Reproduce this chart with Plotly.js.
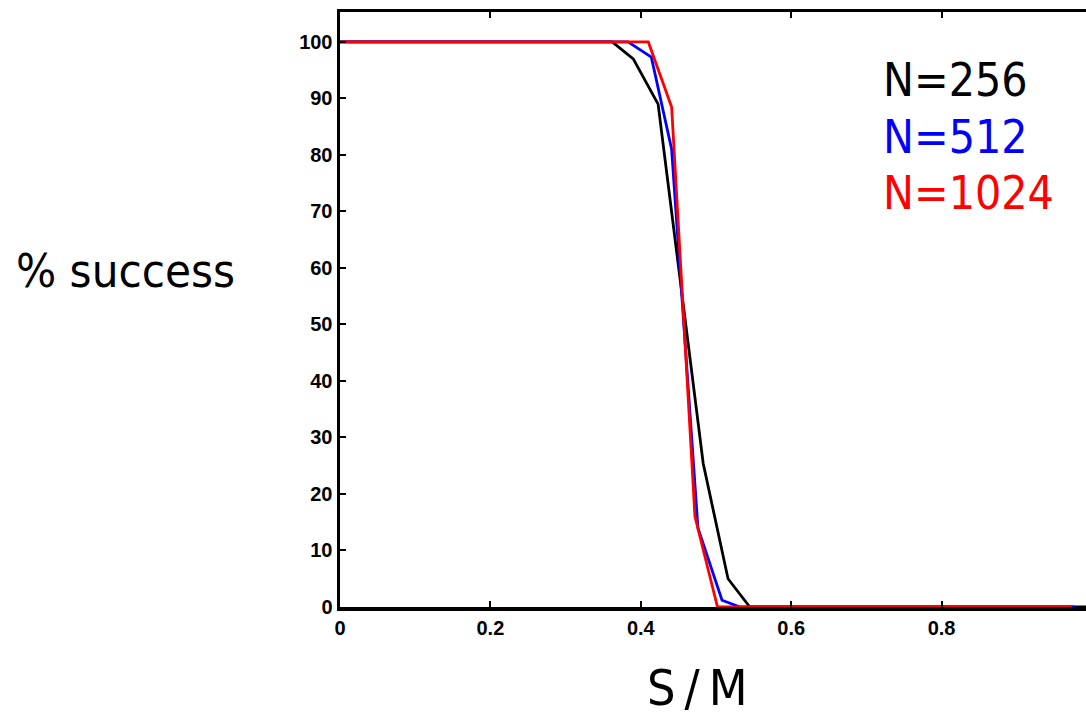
<!DOCTYPE html>
<html>
<head>
<meta charset="utf-8">
<script src="https://cdn.plot.ly/plotly-3.0.1.min.js"></script>
<style>
  html, body { margin: 0; padding: 0; overflow: hidden; background: #fff; }
  #chart { width: 1100px; height: 716px; }
</style>
</head>
<body>
<div id="chart"></div>
<script>
// S/M values and % success for each N
const x256  = [0, 0.362, 0.390, 0.423, 0.483, 0.516, 0.545, 1.0];
const y256  = [100, 100, 97, 89, 25.4, 5, 0, 0];
const x512  = [0, 0.383, 0.414, 0.441, 0.476, 0.508, 0.532, 0.977];
const y512  = [100, 100, 97.3, 81, 14, 1.2, 0, 0];
const x1024 = [0, 0.410, 0.441, 0.472, 0.502, 0.973];
const y1024 = [100, 100, 88.5, 16, 0, 0];

const seriesNames  = ['N=256', 'N=512', 'N=1024'];
const seriesColors = ['#000000', '#0000ff', '#ff0000'];
const xTickVals = [0, 0.2, 0.4, 0.6, 0.8];
const xTickText = ['0', '0.2', '0.4', '0.6', '0.8'];
const yTickVals = [0, 10, 20, 30, 40, 50, 60, 70, 80, 90, 100];
const xTitle = 'S\u2009/\u2009M';
const yTitle = '% success';

const xs = [x256, x512, x1024];
const ys = [y256, y512, y1024];

const traces = xs.map((xv, i) => ({
  x: xv, y: ys[i], type: 'scatter', mode: 'lines', name: seriesNames[i],
  line: { color: seriesColors[i], width: 2.8 }, showlegend: false, hoverinfo: 'skip'
}));

const labelFont = 'DejaVu Sans Condensed, DejaVu Sans, sans-serif';
const tickFont = { family: 'Liberation Sans, Arial, sans-serif', size: 20, color: '#000', weight: 'bold' };

const annotations = [
  { text: yTitle, xref: 'paper', yref: 'paper', x: -0.434, y: 0.566, xanchor: 'left', yanchor: 'middle',
    showarrow: false, font: { family: labelFont, size: 47, color: '#000' } },
  { text: xTitle, xref: 'paper', yref: 'paper', x: 0.476, y: -0.136, xanchor: 'center', yanchor: 'middle',
    showarrow: false, font: { family: labelFont, size: 50, color: '#000' } }
];
const legendY = [0.886, 0.790, 0.696];
seriesNames.forEach((n, i) => annotations.push({
  text: n, xref: 'paper', yref: 'paper', x: 0.719, y: legendY[i], xanchor: 'left', yanchor: 'middle',
  showarrow: false, font: { family: labelFont, size: 46, color: seriesColors[i] }
}));

const layout = {
  width: 1100, height: 716,
  margin: { l: 340, r: 8, t: 12, b: 109 },
  paper_bgcolor: '#fff', plot_bgcolor: '#fff',
  xaxis: {
    range: [0, 1], tickvals: xTickVals, ticktext: xTickText,
    showgrid: false, zeroline: false, showline: true, linecolor: '#000', linewidth: 3.5,
    mirror: 'ticks', ticks: 'inside', ticklen: 6, tickwidth: 2, tickcolor: '#000',
    tickfont: tickFont
  },
  yaxis: {
    range: [0, 105.3], tickvals: yTickVals,
    showgrid: false, zeroline: false, showline: true, linecolor: '#000', linewidth: 3.5,
    mirror: 'ticks', ticks: 'inside', ticklen: 6, tickwidth: 2, tickcolor: '#000',
    tickfont: tickFont
  },
  annotations: annotations
};

Plotly.newPlot('chart', traces, layout, { displayModeBar: false, staticPlot: true });
</script>
</body>
</html>
